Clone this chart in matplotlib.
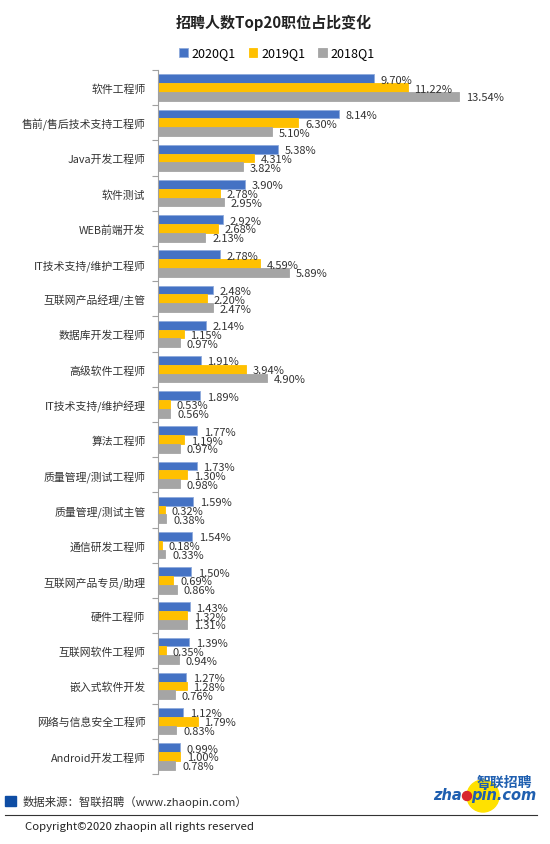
import matplotlib
matplotlib.use('Agg')
from matplotlib import pyplot as plt
from matplotlib.patches import Rectangle, Ellipse
import numpy as np

plt.rcParams['font.family'] = ['Noto Sans CJK SC', 'DejaVu Sans']

jobs = ['软件工程师', '售前/售后技术支持工程师', 'Java开发工程师', '软件测试', 'WEB前端开发',
        'IT技术支持/维护工程师', '互联网产品经理/主管', '数据库开发工程师', '高级软件工程师',
        'IT技术支持/维护经理', '算法工程师', '质量管理/测试工程师', '质量管理/测试主管',
        '通信研发工程师', '互联网产品专员/助理', '硬件工程师', '互联网软件工程师',
        '嵌入式软件开发', '网络与信息安全工程师', 'Android开发工程师']
q2020 = [9.70, 8.14, 5.38, 3.90, 2.92, 2.78, 2.48, 2.14, 1.91, 1.89,
         1.77, 1.73, 1.59, 1.54, 1.50, 1.43, 1.39, 1.27, 1.12, 0.99]
q2019 = [11.22, 6.30, 4.31, 2.78, 2.68, 4.59, 2.20, 1.15, 3.94, 0.53,
         1.19, 1.30, 0.32, 0.18, 0.69, 1.32, 0.35, 1.28, 1.79, 1.00]
q2018 = [13.54, 5.10, 3.82, 2.95, 2.13, 5.89, 2.47, 0.97, 4.90, 0.56,
         0.97, 0.98, 0.38, 0.33, 0.86, 1.31, 0.94, 0.76, 0.83, 0.78]
series = ['2020Q1', '2019Q1', '2018Q1']
colors = ['#4472C4', '#FFC000', '#A5A5A5']

W, H = 550, 845


def fx(px):
    return px / W


def fy(py):
    return 1 - py / H


fig = plt.figure(figsize=(5.5, 8.45), dpi=100)
ax = fig.add_axes([fx(158), fy(775), fx(334), 704 / H])

y = np.arange(len(jobs))
h = 0.25
for i, (vals, name, c) in enumerate(zip([q2020, q2019, q2018], series, colors)):
    pos = y + (i - 1) * h
    ax.barh(pos, vals, height=h, color=c, label=name,
            edgecolor='#8FAADC' if i == 0 else c, linewidth=0.6)
    for p, v in zip(pos, vals):
        ax.text(v + 0.3, p + 0.03, f'{v:.2f}%', va='center', ha='left',
                fontsize=8, color='#333333')

ax.set_ylim(len(jobs) - 0.5, -0.5)
ax.set_xlim(0, 15)
ax.set_yticks(y)
ax.set_yticklabels(jobs, fontsize=7.8, color='#333333')
ax.set_yticks(np.arange(-0.5, len(jobs)), minor=True)
ax.tick_params(axis='y', which='major', length=0, pad=9)
ax.tick_params(axis='y', which='minor', length=4, color='#A0A0A0', width=0.8)
ax.set_xticks([])
for s in ['top', 'right', 'bottom']:
    ax.spines[s].set_visible(False)
ax.spines['left'].set_color('#A0A0A0')
ax.spines['left'].set_linewidth(0.8)

fig.text(fx(274), fy(23), '招聘人数Top20职位占比变化', ha='center', va='center',
         fontsize=10.8, fontweight='bold', color='#222222')
fig.legend(loc='center', bbox_to_anchor=(fx(277), fy(54)), ncol=3, frameon=False,
           fontsize=9, handlelength=0.7, handleheight=0.7, handletextpad=0.3,
           columnspacing=1.0)

# footer
fig.patches.append(Rectangle((fx(5), fy(807)), 11 / W, 10 / H,
                             transform=fig.transFigure, color='#0E4DA4'))
fig.text(fx(23), fy(802), '数据来源：智联招聘（www.zhaopin.com）',
         ha='left', va='center', fontsize=8.2, color='#333333')
fig.add_artist(plt.Line2D([fx(5), fx(537)], [fy(816), fy(816)],
                          transform=fig.transFigure, color='#333333', linewidth=0.8))
fig.text(fx(25), fy(827), 'Copyright©2020 zhaopin all rights reserved',
         ha='left', va='center', fontsize=8.2, color='#222222')

# logo
fig.patches.append(Ellipse((fx(483), fy(797)), 32 / W, 32 / H,
                           transform=fig.transFigure, color='#FFE100', zorder=1))
fig.patches.append(Ellipse((fx(467), fy(797)), 9 / W, 9 / H,
                           transform=fig.transFigure, color='#D8262E', zorder=4))
fig.text(fx(532), fy(783), '智联招聘', ha='right', va='center', fontsize=10,
         fontweight='bold', color='#1F5FB0', style='italic', zorder=3)
fig.text(fx(462), fy(796), 'zha', ha='right', va='center', fontsize=10.5,
         fontweight='bold', color='#1F5FB0', style='italic', family='DejaVu Sans', zorder=3)
fig.text(fx(471), fy(796), 'pin.com', ha='left', va='center', fontsize=10.5,
         fontweight='bold', color='#1F5FB0', style='italic', family='DejaVu Sans', zorder=3)

fig.savefig('out.png', dpi=100, facecolor='white')
